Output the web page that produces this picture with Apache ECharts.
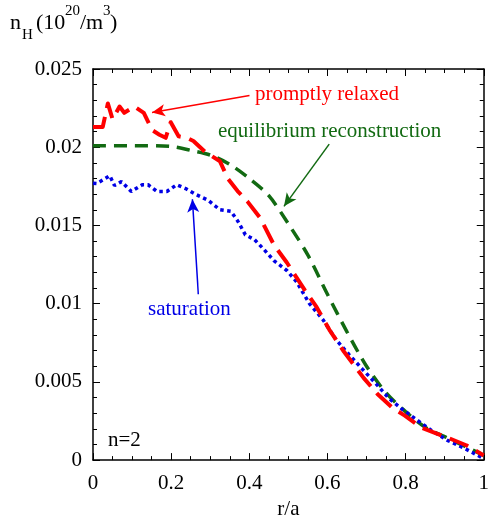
<!DOCTYPE html>
<html>
<head>
<meta charset="utf-8">
<script src="https://cdn.jsdelivr.net/npm/echarts@6/dist/echarts.min.js"></script>
<style>
html, body { margin: 0; padding: 0; background: #fff; }
#main { width: 492px; height: 525px; }
</style>
</head>
<body>
<div id="main"></div>
<script>
// promptly relaxed (red, long dashes)
const redX = [0, 0.025, 0.038, 0.05, 0.068, 0.08, 0.106, 0.13, 0.151, 0.17, 0.186, 0.199, 0.219, 0.24, 0.257, 0.287, 0.325,
	0.345, 0.37, 0.395, 0.428, 0.463, 0.496, 0.542, 0.572, 0.605, 0.642, 0.693, 0.728, 0.766, 0.798, 0.84, 0.912, 0.955, 1.0];
const redY = [0.0213, 0.0213, 0.0228, 0.0218, 0.0226, 0.0222, 0.0226, 0.0222, 0.0211, 0.0208, 0.0206, 0.0216, 0.0207, 0.0206, 0.0204, 0.0197, 0.0191,
	0.0180, 0.0172, 0.01654, 0.01547, 0.01376, 0.01263, 0.01086, 0.00979, 0.00833, 0.00694, 0.00524, 0.00423, 0.00335, 0.00284, 0.00208, 0.00139, 0.00095, 0.0003];

// equilibrium reconstruction (green dashes)
const greenX = [0, 0.1, 0.2, 0.25, 0.3, 0.35, 0.4, 0.45, 0.5, 0.55, 0.6, 0.65, 0.7, 0.75, 0.8, 0.85, 0.9, 0.95, 1.0];
const greenY = [0.0201, 0.0201, 0.02005, 0.0198, 0.0195, 0.0189, 0.0180, 0.0169, 0.0151, 0.0131, 0.0106, 0.0082, 0.0060, 0.0043, 0.0031, 0.0021, 0.0015, 0.0009, 0.0003];

// saturation (blue dots)
const blueX = [0, 0.01, 0.043, 0.055, 0.073, 0.098, 0.126, 0.141, 0.164, 0.189, 0.214, 0.237, 0.262, 0.295, 0.325, 0.353, 0.37,
	0.39, 0.413, 0.438, 0.463, 0.496, 0.521, 0.554, 0.589, 0.622, 0.655, 0.69, 0.723, 0.756, 0.79, 0.824, 0.866, 0.907, 0.95, 0.992, 1.0];
const blueY = [0.0177, 0.01768, 0.01818, 0.01755, 0.0178, 0.01717, 0.0176, 0.0176, 0.01717, 0.01717, 0.0176, 0.01736, 0.0170, 0.0166, 0.0160, 0.0159, 0.0153,
	0.0144, 0.0141, 0.01345, 0.01275, 0.01212, 0.0114, 0.0100, 0.00896, 0.0077, 0.00675, 0.0058, 0.00492, 0.00398, 0.00328, 0.00265, 0.0019, 0.00126, 0.00076, 0.0002, 0.0001];

// annotation arrows, [tailX, tailY, tipX, tipY] in data units
const redArrow = [0.4005, 0.0233, 0.151, 0.02222];
const greenArrow = [0.6045, 0.0202, 0.4887, 0.01622];
const blueArrow = [0.2695, 0.0106, 0.2544, 0.01667];

const RED = '#ff0000';
const GREEN = '#126a12';
const BLUE = '#0000e6';
const FONT = 'Liberation Serif';

const chart = echarts.init(document.getElementById('main'), null, { renderer: 'canvas' });

let zip = (xs, ys) => xs.map((x, i) => [x, ys[i]]);

let arrow = function(a, color) {
	return {
		silent: true,
		animation: false,
		symbol: ['none', 'arrow'],
		symbolSize: [9, 13],
		label: { show: false },
		lineStyle: { color: color, width: 1.5, type: 'solid' },
		data: [[{ coord: [a[0], a[1]] }, { coord: [a[2], a[3]] }]]
	};
};

let txt = function(x, y, s, color, size) {
	return { type: 'text', left: x, top: y, style: { text: s, fill: color, fontFamily: FONT, fontSize: size } };
};

let axisCommon = {
	min: 0,
	axisLine: { onZero: false, lineStyle: { color: '#000', width: 1.5 } },
	axisTick: { inside: true, length: 7, lineStyle: { color: '#000', width: 1 } },
	minorTick: { show: true, length: 4, lineStyle: { color: '#000', width: 1 } },
	splitLine: { show: false }
};

let option = {
	animation: false,
	backgroundColor: '#fff',
	grid: { left: 93, right: 2, top: 69, bottom: 60 },
	xAxis: [
		Object.assign({}, axisCommon, {
			type: 'value', max: 1, interval: 0.2,
			minorTick: Object.assign({}, axisCommon.minorTick, { splitNumber: 4 }),
			axisLabel: { color: '#000', fontFamily: FONT, fontSize: 21, margin: 13 },
			name: 'r/a', nameLocation: 'middle', nameGap: 38,
			nameTextStyle: { color: '#000', fontFamily: FONT, fontSize: 21 }
		}),
		Object.assign({}, axisCommon, {
			type: 'value', max: 1, interval: 0.2, position: 'top',
			minorTick: Object.assign({}, axisCommon.minorTick, { splitNumber: 4 }),
			axisLabel: { show: false }
		})
	],
	yAxis: [
		Object.assign({}, axisCommon, {
			type: 'value', max: 0.025, interval: 0.005,
			minorTick: Object.assign({}, axisCommon.minorTick, { splitNumber: 5 }),
			axisLabel: { color: '#000', fontFamily: FONT, fontSize: 21, margin: 11 }
		}),
		Object.assign({}, axisCommon, {
			type: 'value', max: 0.025, interval: 0.005, position: 'right',
			minorTick: Object.assign({}, axisCommon.minorTick, { splitNumber: 5 }),
			axisLabel: { show: false }
		})
	],
	series: [
		{
			name: 'equilibrium reconstruction',
			type: 'line',
			data: zip(greenX, greenY),
			smooth: 0.3,
			showSymbol: false,
			lineStyle: { color: GREEN, width: 3.5, type: [13, 8], cap: 'butt' },
			markLine: arrow(greenArrow, GREEN),
			z: 2
		},
		{
			name: 'saturation',
			type: 'line',
			data: zip(blueX, blueY),
			showSymbol: false,
			lineStyle: { color: BLUE, width: 3.5, type: [3.5, 3.5], cap: 'butt' },
			markLine: arrow(blueArrow, BLUE),
			z: 3
		},
		{
			name: 'promptly relaxed',
			type: 'line',
			data: zip(redX, redY),
			showSymbol: false,
			lineStyle: { color: RED, width: 4, type: [20, 9], cap: 'butt', join: 'round' },
			markLine: arrow(redArrow, RED),
			z: 4
		}
	],
	graphic: [
		txt(255, 84, 'promptly relaxed', RED, 21),
		txt(218, 121, 'equilibrium reconstruction', GREEN, 21),
		txt(148, 299, 'saturation', BLUE, 21),
		txt(108, 430, 'n=2', '#000', 21),
		// y axis title: n_H (10^20/m^3)
		txt(10, 12, 'n', '#000', 22),
		txt(22, 28, 'H', '#000', 15),
		txt(36, 12, '(10', '#000', 22),
		txt(65, 4, '20', '#000', 15),
		txt(80, 12, '/m', '#000', 22),
		txt(103, 4, '3', '#000', 15),
		txt(110, 12, ')', '#000', 22)
	]
};

chart.setOption(option);
</script>
</body>
</html>
